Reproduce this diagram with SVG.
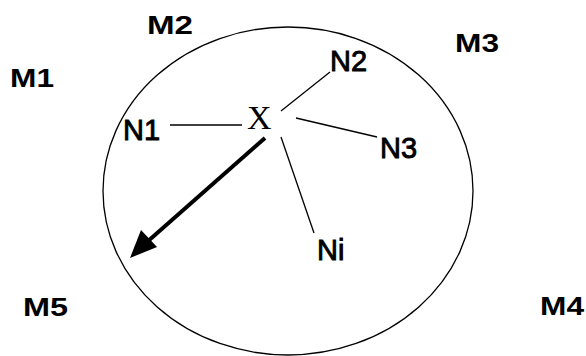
<svg xmlns="http://www.w3.org/2000/svg" width="586" height="356" viewBox="0 0 586 356">
<style>
.lbl{font-family:"Liberation Sans",Arial,sans-serif;font-size:26px;font-weight:bold;fill:#000}
.n{font-size:29px;font-weight:normal;stroke:#000;stroke-width:0.9}
.x{font-family:"Liberation Serif","Times New Roman",serif;font-size:34px;fill:#000}
.ln{stroke:#000;stroke-width:1.3;fill:none}
</style>
<rect width="586" height="356" fill="#fff"/>
<g id="region">
<ellipse cx="288" cy="191" rx="185" ry="164" fill="none" stroke="#000" stroke-width="1.3"/>
</g>
<g id="M1"><text class="lbl" x="10" y="87" textLength="44" lengthAdjust="spacingAndGlyphs">M1</text></g>
<g id="M2"><text class="lbl" x="147" y="34" textLength="46" lengthAdjust="spacingAndGlyphs">M2</text></g>
<g id="M3"><text class="lbl" x="455" y="52" textLength="44" lengthAdjust="spacingAndGlyphs">M3</text></g>
<g id="M4"><text class="lbl" x="540" y="315" textLength="44" lengthAdjust="spacingAndGlyphs">M4</text></g>
<g id="M5"><text class="lbl" x="23" y="316" textLength="45" lengthAdjust="spacingAndGlyphs">M5</text></g>
<g id="X"><text class="x" x="247" y="129">X</text></g>
<g id="N1"><text class="lbl n" x="123" y="140">N1</text></g>
<g id="N2"><text class="lbl n" x="330" y="71">N2</text></g>
<g id="N3"><text class="lbl n" x="380" y="158">N3</text></g>
<g id="Ni"><text class="lbl n" x="317" y="260">Ni</text></g>
<g id="connectors">
<line class="ln" x1="170" y1="125" x2="242" y2="125"/>
<line class="ln" x1="281" y1="111" x2="330" y2="72"/>
<line class="ln" x1="296" y1="118" x2="377" y2="137"/>
<line class="ln" x1="281" y1="137" x2="314" y2="233"/>
<line x1="265" y1="138" x2="147" y2="242" stroke="#000" stroke-width="4"/>
<polygon points="130,258 141,230 157,247" fill="#000"/>
</g>
</svg>
